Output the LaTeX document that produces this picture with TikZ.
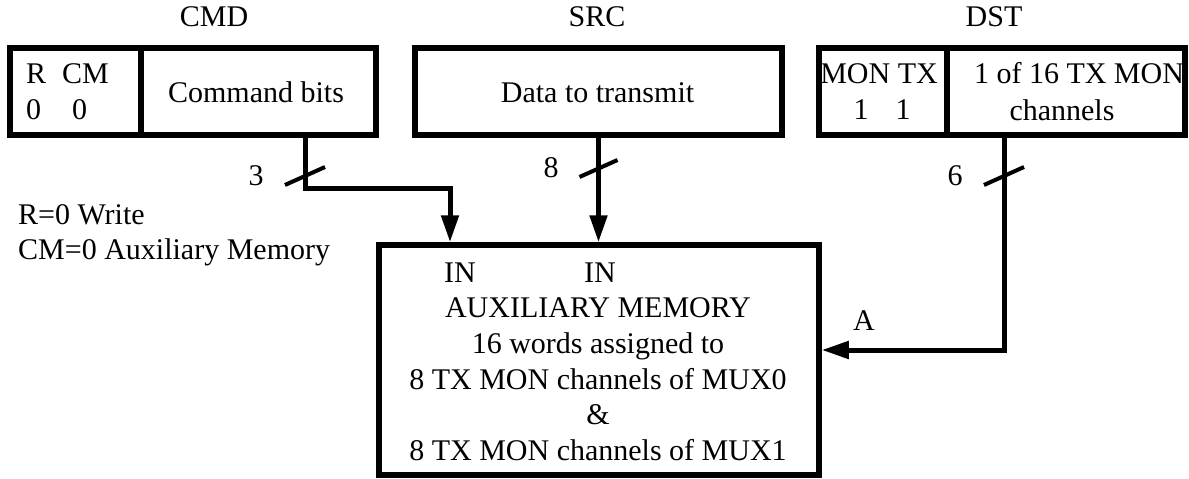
\documentclass[tikz,border=0pt]{standalone}
\usepackage{fontspec}
\setmainfont{Liberation Serif}
\usetikzlibrary{arrows.meta}
\begin{document}
\begin{tikzpicture}[x=1pt,y=-1pt,
  box/.style={draw,line width=5.5pt,inner sep=0pt,minimum height=87pt},
  conn/.style={line width=5pt},
  arr/.style={conn,-{Triangle[length=27pt,width=17pt]}},
  slashmark/.style={line width=4pt},
  txt/.style={anchor=base,inner sep=0pt,font=\fontsize{30}{36}\selectfont},
  txtl/.style={txt,anchor=base west}]
\useasboundingbox (0,0) rectangle (1189,479);

% boxes
\node[box,minimum width=131pt] (cmdL) at (75.5,91.5) {};
\node[box,minimum width=235pt] (cmdR) at (258.5,91.5) {};
\node[box,minimum width=367pt] (src) at (598.5,91.5) {};
\node[box,minimum width=128pt] (dstL) at (883,91.5) {};
\node[box,minimum width=238pt] (dstR) at (1066,91.5) {};
\node[box,minimum width=440pt,minimum height=230pt] (mem) at (599,360) {};

% titles
\node[txt] (tcmd) at (214,27) {CMD};
\node[txt] (tsrc) at (597,27) {SRC};
\node[txt] (tdst) at (994,27) {DST};

% CMD contents
\node[txtl] (rbit) at (26,83) {R};
\node[txtl] (cmbit) at (62,83) {CM};
\node[txtl] (rval) at (26,119) {0};
\node[txtl] (cmval) at (72,119) {0};
\node[txt] (cmdbits) at (256,102) {Command bits};

% SRC contents
\node[txt] (data) at (597.5,102) {Data to transmit};

% DST contents
\node[txt] (montx) at (879,83) {MON TX};
\node[txt] (monval) at (861,119) {1};
\node[txt] (txval) at (903,119) {1};
\node[txt] (dsta) at (1079,83) {1 of 16 TX MON};
\node[txt] (dstb) at (1062,120) {channels};

% notes
\node[txtl] (note1) at (18,224) {R=0 Write};
\node[txtl] (note2) at (18,259) {CM=0 Auxiliary Memory};

% memory contents
\node[txt] (in1) at (460,282) {IN};
\node[txt] (in2) at (600,282) {IN};
\node[txt] (m1) at (598,317) {AUXILIARY MEMORY};
\node[txt] (m2) at (598,353) {16 words assigned to};
\node[txt] (m3) at (598,389) {8 TX MON channels of MUX0};
\node[txt] (m4) at (598,424) {\&};
\node[txt] (m5) at (598,460) {8 TX MON channels of MUX1};

% connectors
\coordinate (k3) at (305,188);
\coordinate (x1) at (450,0);
\coordinate (k6) at (1004,350);
\draw[arr] (k3 |- cmdR.south) -- (k3) -| (x1 |- mem.north);
\draw[arr] (src.south) -- (src.south |- mem.north);
\draw[arr] (k6 |- dstR.south) -- (k6) -- (k6 -| mem.east);

% bus width marks
\coordinate (s3) at (305,176);
\coordinate (s8) at (598.5,168.5);
\coordinate (s6) at (1004,176);
\draw[slashmark] ([shift={(-20,9)}]s3) -- ([shift={(20,-9)}]s3);
\draw[slashmark] ([shift={(-19,8.5)}]s8) -- ([shift={(19,-8.5)}]s8);
\draw[slashmark] ([shift={(-20,9)}]s6) -- ([shift={(20,-9)}]s6);
\node[txt] (n3) at (256,185) {3};
\node[txt] (n8) at (551,177) {8};
\node[txt] (n6) at (955,185) {6};
\node[txt] (la) at (864,330) {A};
\end{tikzpicture}
\end{document}
